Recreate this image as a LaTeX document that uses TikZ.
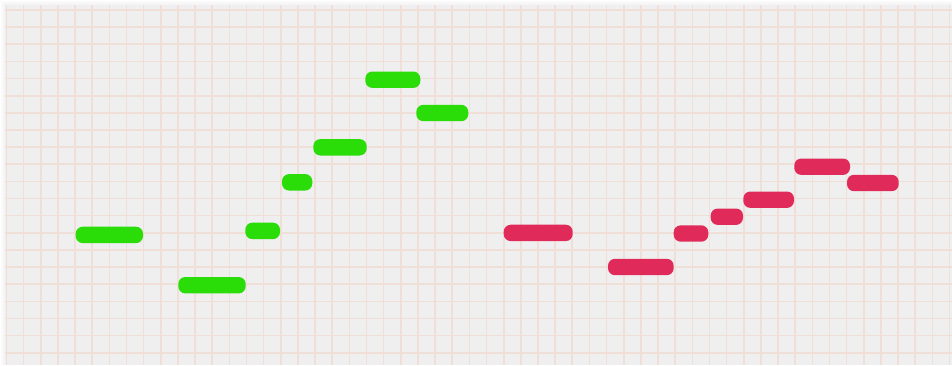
\documentclass[tikz,border=0pt]{standalone}
\usepackage{tikz}
\usetikzlibrary{positioning}
\definecolor{paper}{HTML}{EFEFEF}
\definecolor{gridpink}{HTML}{EFDFD7}
\definecolor{notegreen}{HTML}{22DD00}
\definecolor{notered}{HTML}{E02454}

\begin{document}
\begin{tikzpicture}[x=1pt, y=-1pt,
    gridline/.style={gridpink, line width=1.6pt},
    notebar/.style={rounded corners=7pt, fill opacity=0.96}]
    \useasboundingbox (0,0) rectangle (952,365);
    \fill[white] (0,0) rectangle (952,365);

    % Schatten und Blatt
    \fill[black!2] (1,1) rectangle (952,365);
    \fill[black!4] (3,3) rectangle (952,365);
    \fill[paper] (5,5) rectangle (952,365);

    % Raster
    \foreach \i in {0,...,55}
        \draw[gridline] ({6.5+17.145*\i},5) -- ({6.5+17.145*\i},365);
    \foreach \j in {0,...,20}
        \draw[gridline] (5,{10+17.14*\j}) -- (952,{10+17.14*\j});

    % Melodie links (gruen)
    \foreach \xa/\xb/\yc in {75.7/143/234.9, 178.3/245.7/285.2, 245.3/280/230.9,
                             282/312.3/182.3, 313.3/366.7/147.3, 365.3/420.3/79.7,
                             416.3/468.3/113}
        \fill[notebar, notegreen] (\xa,\yc-8.2) rectangle (\xb,\yc+8.2);

    % Melodie rechts (rot)
    \foreach \xa/\xb/\yc in {503.7/572.7/232.9, 608/673.7/267, 673.7/708.3/233.5,
                             710.7/743/216.7, 743.3/794/199.7, 794.3/850/166.7,
                             847/898.7/183}
        \fill[notebar, notered] (\xa,\yc-8.2) rectangle (\xb,\yc+8.2);
\end{tikzpicture}
\end{document}
